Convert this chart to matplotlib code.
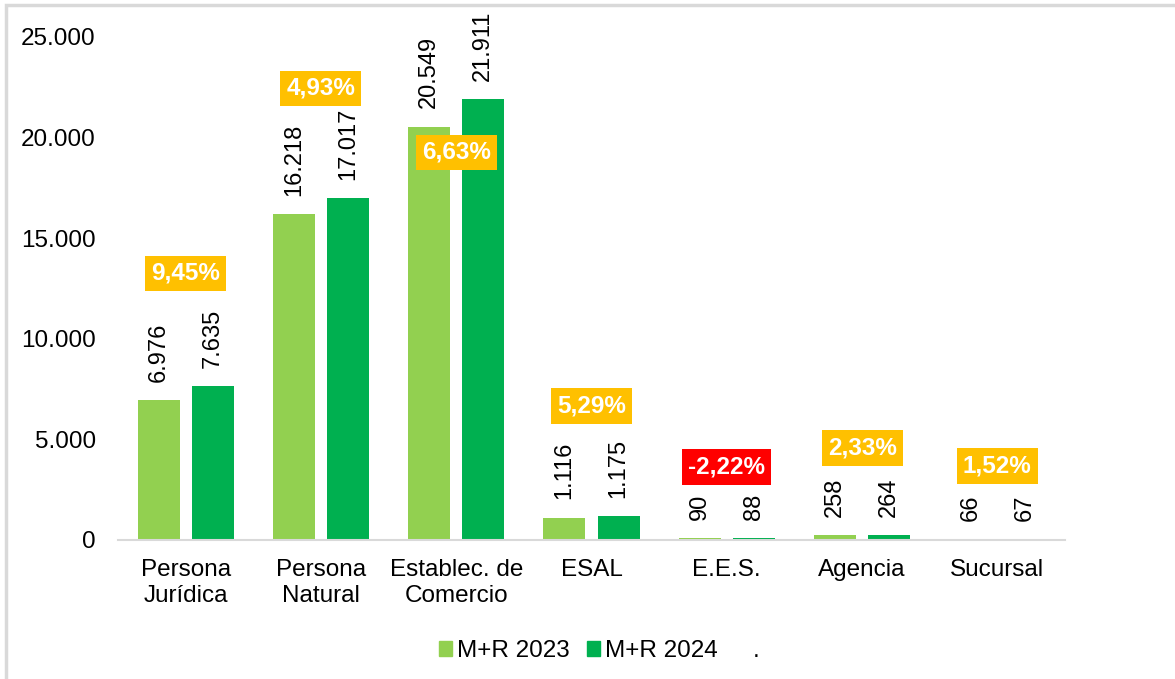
import matplotlib
matplotlib.use("Agg")
import matplotlib.pyplot as plt
from matplotlib.patches import Patch, Rectangle
import numpy as np

plt.rcParams['font.family'] = ['Liberation Sans', 'DejaVu Sans']

categories = ["Persona\nJurídica", "Persona\nNatural", "Establec. de\nComercio", "ESAL",
              "E.E.S.", "Agencia", "Sucursal"]
values_2023 = [6976, 16218, 20549, 1116, 90, 258, 66]
values_2024 = [7635, 17017, 21911, 1175, 88, 264, 67]
pct_labels = ["9,45%", "4,93%", "6,63%", "5,29%", "-2,22%", "2,33%", "1,52%"]
series_names = ["M+R 2023", "M+R 2024", "."]
yticks = [0, 5000, 10000, 15000, 20000, 25000]
ytick_labels = ["0", "5.000", "10.000", "15.000", "20.000", "25.000"]

# layout: vertical position of the percentage boxes (data units)
pct_label_y = [13260, 22450, 19270, 6660, 3630, 4570, 3680]

c23 = "#92D050"
c24 = "#00B050"
FS = 17.5

def fmt(v):
    return f"{v:,}".replace(",", ".")

fig = plt.figure(figsize=(11.75, 6.79), dpi=100)
ax = fig.add_axes([118/1175, 1-540/679, (1065-118)/1175, (540-37)/679])

x = np.arange(len(categories))
w = 0.31
off = 0.2
b1 = ax.bar(x - off, values_2023, w, color=c23, label=series_names[0])
b2 = ax.bar(x + off, values_2024, w, color=c24, label=series_names[1])

for bars, vals in ((b1, values_2023), (b2, values_2024)):
    for rect, v in zip(bars, vals):
        ax.annotate(fmt(v), (rect.get_x() + rect.get_width()/2, rect.get_height()),
                    xytext=(0, 13), textcoords="offset points", rotation=90,
                    ha="center", va="bottom", fontsize=17, color="black",
                    annotation_clip=False)

for xi, lab, yy in zip(x, pct_labels, pct_label_y):
    neg = lab.startswith("-")
    ax.text(xi, yy, lab, ha="center", va="center", fontsize=FS, fontweight="bold",
            color="white", clip_on=False,
            bbox=dict(boxstyle="square,pad=0.25", fc="#FF0000" if neg else "#FFC000", ec="none"))

ax.set_xlim(-0.5, len(categories) - 0.5)
ax.set_ylim(0, 25000)
ax.set_yticks(yticks)
ax.set_yticklabels(ytick_labels, fontsize=FS)
ax.set_xticks(x)
ax.set_xticklabels(categories, fontsize=FS, linespacing=1.2)
ax.tick_params(axis="both", length=0)
ax.tick_params(axis="y", pad=16)
ax.tick_params(axis="x", pad=14)
for s in ("top", "right", "left"):
    ax.spines[s].set_visible(False)
ax.spines["bottom"].set_color("#D9D9D9")
ax.spines["bottom"].set_linewidth(1.5)

handles = [Patch(color=c23), Patch(color=c24), Patch(facecolor="none", edgecolor="none")]
fig.legend(handles, series_names, loc="center", bbox_to_anchor=(0.510, 1-651/679),
           ncol=3, frameon=False, fontsize=FS, handlelength=0.55, handleheight=0.55,
           handletextpad=0.2, columnspacing=0.7)

fig.patches.append(Rectangle((6/1175, -0.1), 1.2, 1.1 - 5/679, transform=fig.transFigure,
                             fill=False, ec="#D9D9D9", lw=2.5, zorder=0))

fig.savefig("out.png", dpi=100)
